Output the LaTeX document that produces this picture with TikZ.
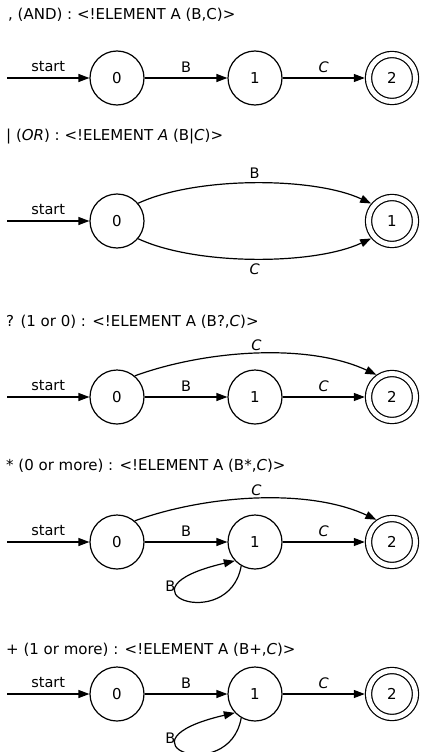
\documentclass[tikz,border=0pt]{standalone}
\usepackage{fontspec}
\setmainfont{DejaVu Sans}
\usetikzlibrary{arrows.meta}
\tikzset{
  state/.style={circle, draw, line width=1.2pt, minimum size=54pt, inner sep=0pt, font=\fontsize{15}{16}\selectfont},
  final/.style={state, double, double distance=5pt, minimum size=47pt, outer sep=3.7pt},
  trans/.style={line width=1.2pt, -{Triangle[length=11pt,width=8pt]}},
  lbl/.style={font=\fontsize{14.5}{16}\selectfont, inner sep=1pt},
  title/.style={anchor=west, inner sep=0pt, font=\fontsize{15}{16}\selectfont}
}
\begin{document}
\begin{tikzpicture}[x=1pt,y=1pt]
		\useasboundingbox (0,0) rectangle (421,-752);
		
		\node[title] (t1) at (8,-15) {, (AND) : <!ELEMENT A (B,C)>};
		\coordinate (s1) at (7,-78);
		\node[state] (a0) at (117,-78) {0};
		\node[state] (a1) at (255,-78) {1};
		\node[final] (a2) at (392,-78) {2};
		\draw[trans] (s1) -- node[lbl,above=5pt] {start} (a0);
		\draw[trans] (a0) -- node[lbl,above=4pt] {B} (a1);
		\draw[trans] (a1) -- node[lbl,above=4pt] {\textit{C}} (a2);
		
		\node[title] (t2) at (6,-137) {| (\textit{OR}) : <!ELEMENT \textit{A} (B|\textit{C})>};
		\coordinate (s2) at (7,-221);
		\node[state] (b0) at (117,-221) {0};
		\node[final] (b1) at (392,-221) {1};
		\draw[trans] (s2) -- node[lbl,above=5pt] {start} (b0);
		\draw[trans] (b0.40) to[out=25,in=155,looseness=0.7] node[lbl,above=3pt] {B} (b1.140);
		\draw[trans] (b0.-40) to[out=-25,in=-155,looseness=0.7] node[lbl,below=3pt] {\textit{C}} (b1.-140);
		
		\node[title] (t3) at (6,-322) {? (1 or 0) : <!ELEMENT A (B?,\textit{C})>};
		\coordinate (s3) at (7,-397);
		\node[state] (c0) at (117,-397) {0};
		\node[state] (c1) at (255,-397) {1};
		\node[final] (c2) at (392,-397) {2};
		\draw[trans] (s3) -- node[lbl,above=5pt] {start} (c0);
		\draw[trans] (c0) -- node[lbl,above=4pt] {B} (c1);
		\draw[trans] (c1) -- node[lbl,above=4pt] {\textit{C}} (c2);
		\draw[trans] (c0.50) to[out=20,in=155,looseness=0.8] node[lbl,above=1pt] {\textit{C}} (c2.125);
		
		\node[title] (t4) at (6,-466) {* (0 or more) : <!ELEMENT A (B*,\textit{C})>};
		\coordinate (s4) at (7,-542);
		\node[state] (d0) at (117,-542) {0};
		\node[state] (d1) at (255,-542) {1};
		\node[final] (d2) at (392,-542) {2};
		\draw[trans] (s4) -- node[lbl,above=5pt] {start} (d0);
		\draw[trans] (d0) -- node[lbl,above=4pt] {B} (d1);
		\draw[trans] (d1) -- node[lbl,above=4pt] {\textit{C}} (d2);
		\draw[trans] (d0.50) to[out=20,in=155,looseness=0.8] node[lbl,above=1pt] {\textit{C}} (d2.125);
		\draw[trans] (d1.-120) .. controls +(-100:70) and +(193:130) .. (d1.-137) node[lbl,pos=0.72,left=2pt] {B};
		
		\node[title] (t5) at (6,-650) {+ (1 or more) : <!ELEMENT A (B+,\textit{C})>};
		\coordinate (s5) at (7,-694);
		\node[state] (e0) at (117,-694) {0};
		\node[state] (e1) at (255,-694) {1};
		\node[final] (e2) at (392,-694) {2};
		\draw[trans] (s5) -- node[lbl,above=5pt] {start} (e0);
		\draw[trans] (e0) -- node[lbl,above=4pt] {B} (e1);
		\draw[trans] (e1) -- node[lbl,above=4pt] {\textit{C}} (e2);
		\draw[trans] (e1.-120) .. controls +(-100:70) and +(193:130) .. (e1.-137) node[lbl,pos=0.72,left=2pt] {B};
\end{tikzpicture}
\end{document}
